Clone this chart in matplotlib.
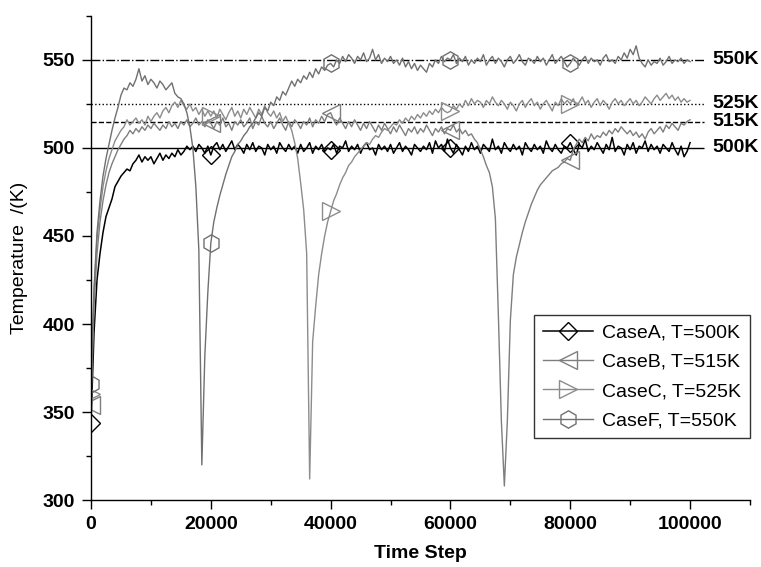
import numpy as np
import matplotlib
matplotlib.use('Agg')
import matplotlib.pyplot as plt
from matplotlib.ticker import MultipleLocator

# 字体设置
plt.rcParams['font.family'] = ['Liberation Sans', 'DejaVu Sans']

# 时间步 (每 500 步一个点)
time_step = np.arange(0, 100001, 500)

# CaseA, T=500K
case_a = [
    344, 395, 425, 440, 452, 461, 466, 471, 478, 481,
    484, 486, 488, 487, 491, 493, 496, 492, 495, 493,
    495, 491, 494, 497, 493, 496, 494, 497, 495, 499,
    496, 498, 501, 499, 501, 498, 502, 500, 497, 501,
    496, 501, 503, 499, 502, 498, 501, 504, 499, 502,
    500, 497, 502, 499, 503, 498, 501, 500, 496, 502,
    499, 501, 497, 503, 500, 498, 502, 499, 501, 497,
    502, 498, 500, 503, 497, 501, 499, 502, 498, 500,
    499, 502, 497, 501, 500, 504, 498, 501, 499, 502,
    497, 501, 503, 499, 500, 496, 502, 499, 501, 498,
    502, 497, 500, 503, 498, 501, 499, 496, 502, 500,
    498, 501, 499, 503, 497, 504, 500, 502, 498, 505,
    500, 497, 502, 499, 496, 501, 498, 503, 499, 501,
    497, 502, 500, 498, 505, 499, 501, 497, 503, 500,
    498, 502, 499, 501, 496, 503, 500, 498, 502, 499,
    501, 497, 504, 500, 498, 502, 499, 497, 501, 500,
    503, 499, 496, 502, 500, 505, 498, 501, 499, 503,
    500, 497, 502, 499, 506, 498, 501, 500, 496, 502,
    499, 503, 497, 501, 500, 504, 498, 502, 499, 501,
    497, 502, 500, 498, 503, 499, 496, 501, 495, 498,
    503]

# CaseB, T=515K
case_b = [
    354, 410, 440, 458, 470, 479, 486, 491, 495, 499,
    502, 505, 507, 510, 508, 511, 509, 512, 510, 513,
    511, 514, 512, 510, 513, 511, 515, 512, 514, 511,
    515, 513, 516, 512, 514, 517, 513, 515, 512, 516,
    514, 511, 515, 513, 517, 512, 514, 510, 515, 513,
    516, 512, 514, 517, 511, 515, 513, 518, 514, 512,
    515, 511, 514, 517, 513, 510, 515, 512, 516, 514,
    511, 515, 513, 517, 512, 516, 514, 518, 515, 519,
    520, 516, 513, 517, 514, 511, 515, 512, 516, 513,
    510, 514, 511, 515, 512, 509, 513, 510, 514, 511,
    508, 512, 509, 513, 510, 507, 511, 509, 512, 508,
    511, 509, 513, 510, 507, 511, 509, 512, 508, 511,
    510, 513, 509, 511, 508, 510, 507, 508, 505, 503,
    499, 495, 490, 486, 478, 460, 405, 345, 308, 345,
    402, 428, 438, 445, 452, 458, 463, 468, 472, 476,
    479, 481, 483, 485, 487, 488, 489, 491, 492, 494,
    493, 499, 502, 505, 503, 506, 504, 508, 505, 507,
    506, 509, 507, 510, 508, 511, 509, 512, 510, 508,
    510, 507, 509, 506, 508, 505, 509, 511, 508, 510,
    512, 509, 513, 511, 514, 512, 510, 514, 513, 515,
    516]

# CaseC, T=525K
case_c = [
    360, 418, 448, 465, 478, 487, 494, 499, 504, 507,
    510, 512, 516, 513, 515, 517, 514, 516, 513, 518,
    515, 518, 520, 517, 521, 523, 520, 524, 526, 523,
    527, 524, 522, 525, 521, 523, 519, 522, 518, 521,
    518, 521, 517, 522, 519, 516, 520, 523, 518, 521,
    517, 522, 519, 523, 520, 517, 522, 519, 524, 520,
    518, 521, 517, 520, 515, 518, 514, 510, 503, 494,
    480, 465, 440, 312, 390, 410, 428, 440, 450, 458,
    464, 470, 474, 479, 483, 486, 490, 492, 495, 497,
    499, 501, 503, 502, 505, 507, 506, 509, 511, 510,
    512, 514, 513, 516, 514, 517, 515, 518, 516, 519,
    517, 520, 518, 521, 519, 522, 520, 523, 521, 520,
    521, 524, 522, 525, 523, 527, 524, 528, 525, 527,
    526, 523, 527, 525, 529, 526, 524, 527, 525, 522,
    526, 524, 521, 525, 527, 523, 526, 528, 524, 526,
    522, 525, 527, 524, 521, 526, 524, 528, 525, 527,
    525, 528, 524, 526, 529, 525, 527, 523, 526, 528,
    524, 527, 525, 522, 526, 528, 525, 527, 524, 526,
    528, 525, 527, 524, 526, 529, 527, 525, 528, 530,
    527, 529, 531, 528, 530, 527, 529, 526, 528, 526,
    527]

# CaseF, T=550K
case_f = [
    366, 420, 452, 470, 484, 494, 502, 510, 517, 523,
    530, 534, 533, 537, 535, 539, 545, 538, 541, 536,
    539, 537, 534, 538, 536, 533, 535, 537, 531, 529,
    528, 525, 520, 512, 500, 478, 442, 320, 382, 418,
    446, 458, 466, 473, 479, 485, 490, 495, 498, 502,
    504, 507, 509, 512, 514, 517, 520, 518, 523, 521,
    526, 524, 529, 527, 532, 530, 534, 538, 535, 539,
    537, 541, 539, 543, 540, 545, 542, 546, 544, 547,
    548, 546, 550, 548, 552, 549, 553, 551, 548, 552,
    550, 554, 549, 551, 556, 550, 553, 548, 551, 549,
    552, 548, 550, 547, 551, 546, 549, 545, 548, 544,
    547, 545, 543, 548, 546, 550, 548, 552, 549, 551,
    550, 553, 548, 551, 549, 552, 547, 550, 548, 551,
    549, 553, 547, 550, 552, 548, 551, 549, 546, 550,
    552, 548, 550, 553, 549, 547, 551, 550, 548, 552,
    549, 551, 547, 550, 553, 548, 550, 552, 549, 546,
    548, 551, 549, 547, 550, 552, 548, 551, 549, 550,
    547, 551, 553, 549, 550, 548, 552, 550, 554, 551,
    556, 553, 558, 551, 548, 546, 550, 547, 549, 548,
    551, 547, 549, 552, 548, 550, 549, 551, 548, 550,
    549]

labels = ['CaseA, T=500K', 'CaseB, T=515K', 'CaseC, T=525K', 'CaseF, T=550K']
target_temps = [500, 515, 525, 550]
target_labels = ['500K', '515K', '525K', '550K']

fig = plt.figure(figsize=(7.61, 5.67), dpi=100)
ax = fig.add_axes([0.1196, 0.118, 0.8659, 0.854])

# 目标温度参考线
ref_styles = ['-', '--', ':', '-.']
for t, ls in zip(target_temps, ref_styles):
    ax.hlines(t, 0, 102300, colors='black', linestyles=ls, linewidth=1.0)
for t, lab in zip(target_temps, target_labels):
    ax.text(103700, t, lab, fontsize=14, fontweight='bold', va='center', ha='left')

# 各工况温度曲线
series = [case_a, case_b, case_c, case_f]
colors = ['black', '#7e7e7e', '#8c8c8c', '#707070']
markers = ['D', '<', '>', 'h']
sizes = [9.5, 13, 13, 12.5]
widths = [1.1, 1.0, 1.0, 1.0]
for ys, lab, c, m, s, w in zip(series, labels, colors, markers, sizes, widths):
    ax.plot(time_step, ys, color=c, linewidth=w, marker=m, markersize=s,
            markerfacecolor='none', markeredgecolor=c, markeredgewidth=1.0,
            markevery=slice(0, 200, 40), label=lab)

ax.set_xlim(0, 110000)
ax.set_ylim(300, 575)
ax.xaxis.set_major_locator(MultipleLocator(20000))
ax.xaxis.set_minor_locator(MultipleLocator(10000))
ax.yaxis.set_major_locator(MultipleLocator(50))
ax.yaxis.set_minor_locator(MultipleLocator(25))

ax.spines['top'].set_visible(False)
ax.spines['right'].set_visible(False)
for sp in ['left', 'bottom']:
    ax.spines[sp].set_linewidth(1.0)
ax.tick_params(which='major', direction='out', length=6.5, width=1.0, pad=5)
ax.tick_params(which='minor', direction='out', length=3.5, width=1.0)
for lab in ax.get_xticklabels() + ax.get_yticklabels():
    lab.set_fontsize(14)
    lab.set_fontweight('bold')

ax.set_xlabel('Time Step', fontsize=14, fontweight='bold')
ax.set_ylabel('Temperature  /(K)', fontsize=14)
ax.xaxis.set_label_coords(0.5, -0.093)
ax.yaxis.set_label_coords(-0.096, 0.5)

leg = ax.legend(loc='lower right', bbox_to_anchor=(1.0, 0.128), borderaxespad=0,
                fontsize=14, frameon=True, fancybox=False, edgecolor='black',
                handlelength=2.6, handletextpad=0.45, labelspacing=0.6,
                borderpad=0.45)
leg.get_frame().set_linewidth(1.0)

fig.savefig('out.png', dpi=100)
